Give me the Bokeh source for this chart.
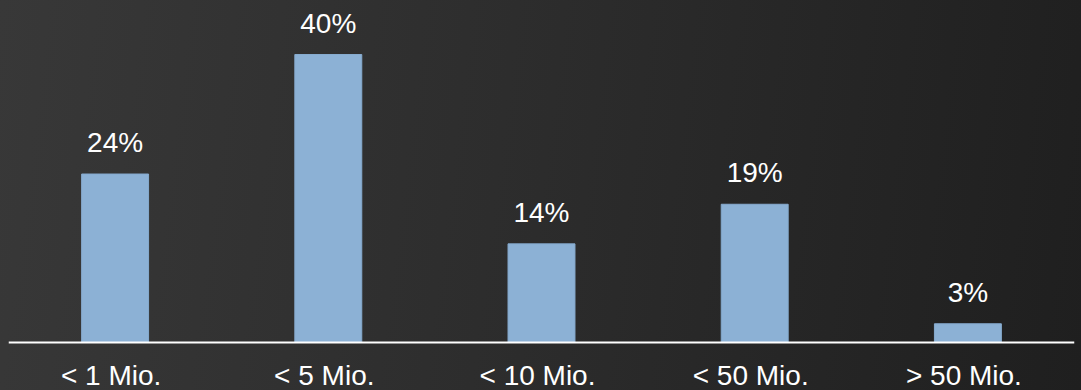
from bokeh.plotting import figure
from bokeh.models import ColumnDataSource, FactorRange, Range1d, Span
from bokeh.core.properties import value
from bokeh.embed import file_html
from bokeh.resources import INLINE

categories = ["< 1 Mio.", "< 5 Mio.", "< 10 Mio.", "< 50 Mio.", "> 50 Mio."]
shares = [23.4, 40.0, 13.7, 19.2, 2.6]
share_labels = ["24%", "40%", "14%", "19%", "3%"]

PX = 7.2  # pixels per percentage point
src = ColumnDataSource(dict(cat=categories, v=shares, lab=share_labels,
                            base=[0.0] * len(categories)))

p = figure(width=1081, height=390, output_backend="svg", toolbar_location=None,
           x_range=FactorRange(*categories, range_padding=0),
           y_range=Range1d(-48 / PX, 342 / PX),
           min_border_left=8, min_border_right=7, min_border_top=0, min_border_bottom=0)
p.axis.visible = False
p.grid.visible = False
p.outline_line_color = None
p.background_fill_color = None
p.border_fill_color = None

p.vbar(x="cat", top="v", bottom=0, width=0.314, source=src,
       fill_color="#8cb1d5", line_color="#86abcf", line_width=1)

p.add_layout(Span(location=0, dimension="width", line_color="white", line_width=2))

p.text(x="cat", y="v", text="lab", source=src, y_offset=-16,
       text_align="center", text_baseline="bottom",
       text_font=value("Liberation Sans"), text_font_size="28px", text_color="white")

p.text(x="cat", y="base", text="cat", source=src, x_offset=-4, y_offset=17,
       text_align="center", text_baseline="top",
       text_font=value("Liberation Sans"), text_font_size="28px", text_color="white")

html = file_html(p, INLINE)
style = ("<style>html,body{margin:0;padding:0;height:100%;"
         "background:linear-gradient(97deg,#383838 0%,#2c2c2c 50%,#1f1f1f 100%);}</style>")
html = html.replace("</head>", style + "</head>", 1)
open("out.html", "w").write(html)
